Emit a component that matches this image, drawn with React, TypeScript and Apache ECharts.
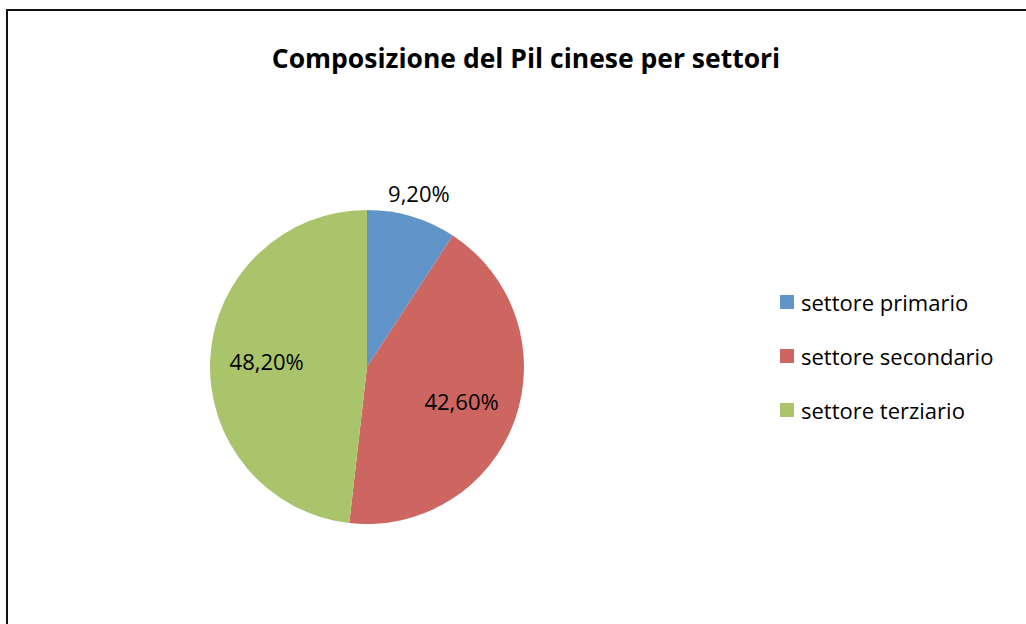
import React, { useEffect, useRef } from "react";
import * as echarts from "echarts";

const TITLE = "Composizione del Pil cinese per settori";
const categories = ["settore primario", "settore secondario", "settore terziario"];
const values = [9.2, 42.6, 48.2];
const colors = ["#6195C9", "#CD6660", "#AAC46C"];

const FONT = "'Open Sans', 'Noto Sans', sans-serif";

const fmt = (v: number) => v.toFixed(2).replace(".", ",") + "%";

export default function App() {
  const ref = useRef<HTMLDivElement>(null);
  useEffect(() => {
    document.body.style.margin = "0";
    const chart = echarts.init(ref.current!, null, { renderer: "svg" });
    const data = categories.map((name, i) => ({
      name,
      value: values[i],
      itemStyle: { color: colors[i] },
    }));
    const center = [367, 367];
    const R = 157;
    const labelStyle = {
      fontFamily: FONT,
      fontSize: 22,
      color: "#000",
      formatter: (p: any) => fmt(p.value),
    };
    chart.setOption({
      animation: false,
      backgroundColor: "#ffffff",
      title: {
        text: TITLE,
        left: 521,
        top: 39,
        textAlign: "center",
        textStyle: { fontFamily: FONT, fontWeight: "bold", fontSize: 26.5, color: "#000" },
      },
      legend: {
        orient: "vertical",
        left: 775,
        top: 285,
        itemGap: 30,
        itemWidth: 14,
        itemHeight: 14,
        icon: "rect",
        data: categories,
        textStyle: {
          fontFamily: FONT,
          fontSize: 22,
          lineHeight: 24,
          color: "#000",
          padding: [0, 0, 0, 2],
        },
      },
      graphic: [
        {
          type: "rect",
          shape: { x: 7, y: 10, width: 1200, height: 800 },
          style: { fill: "none", stroke: "#111", lineWidth: 2 },
          silent: true,
        },
      ],
      series: [
        {
          type: "pie",
          center,
          radius: [0, R],
          startAngle: 90,
          clockwise: true,
          label: { show: false },
          labelLine: { show: false },
          emphasis: { disabled: true },
          data,
        },
        {
          type: "pie",
          center,
          radius: [38, R],
          startAngle: 90,
          clockwise: true,
          silent: true,
          itemStyle: { color: "rgba(0,0,0,0)" },
          label: { show: true, position: "inside", ...labelStyle },
          labelLine: { show: false },
          data: data.map((d, i) => ({
            name: d.name,
            value: d.value,
            itemStyle: { color: "rgba(0,0,0,0)" },
            label: { show: i !== 0 },
          })),
        },
        {
          type: "pie",
          center,
          radius: [R, R + 44],
          startAngle: 90,
          clockwise: true,
          silent: true,
          itemStyle: { color: "rgba(0,0,0,0)" },
          label: { show: true, position: "inside", ...labelStyle },
          labelLine: { show: false },
          data: data.map((d, i) => ({
            name: d.name,
            value: d.value,
            itemStyle: { color: "rgba(0,0,0,0)" },
            label: { show: i === 0 },
          })),
        },
      ],
    });
    return () => chart.dispose();
  }, []);
  return (
    <div
      ref={ref}
      style={{ position: "absolute", left: 0, top: 0, width: 1026, height: 624 }}
    />
  );
}
